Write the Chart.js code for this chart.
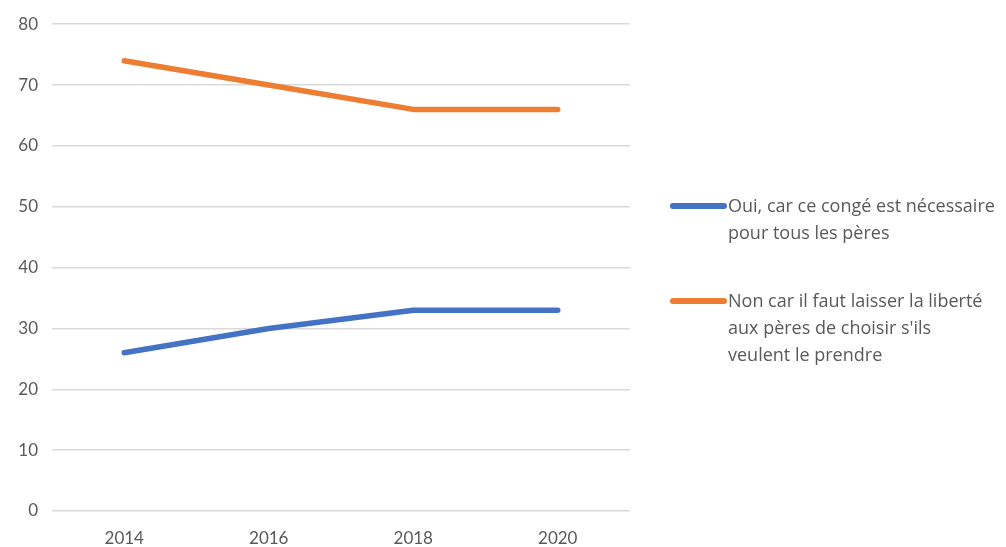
<!DOCTYPE html>
<html><head><meta charset="utf-8">
<script src="https://cdn.jsdelivr.net/npm/chart.js@4"></script>
<style>
html,body{margin:0;padding:0;background:#fff;}
#wrap{position:relative;width:1006px;height:547px;}
#legend{position:absolute;left:670px;top:0;font-family:"Open Sans",Lato,sans-serif;font-size:18px;color:#595959;line-height:27px;}
.item{position:absolute;left:0;width:340px;}
.sw{position:absolute;left:0;width:57px;height:5.5px;border-radius:3px;top:11px;}
.tx{position:absolute;left:58px;width:290px;white-space:nowrap;}
</style></head>
<body><div id="wrap"><canvas id="c" width="1006" height="547"></canvas><div id="legend"></div></div>
<script>
const categories = ["2014","2016","2018","2020"];
const seriesNames = ["Oui, car ce congé est nécessaire pour tous les pères","Non car il faut laisser la liberté aux pères de choisir s'ils veulent le prendre"];
const legendLines = [["Oui, car ce congé est nécessaire","pour tous les pères"],["Non car il faut laisser la liberté","aux pères de choisir s'ils","veulent le prendre"]];
const ouiValues = [26,30,33,33];
const nonValues = [74,70,66,66];
const colors = ["#4472C4","#ED7D31"];

const chart = new Chart(document.getElementById('c'),{
  type:'line',
  data:{labels:categories,datasets:[
    {label:seriesNames[0],data:ouiValues,borderColor:colors[0],backgroundColor:colors[0],borderWidth:5.5,pointRadius:0,borderCapStyle:'round',borderJoinStyle:'round',tension:0},
    {label:seriesNames[1],data:nonValues,borderColor:colors[1],backgroundColor:colors[1],borderWidth:5.5,pointRadius:0,borderCapStyle:'round',borderJoinStyle:'round',tension:0}
  ]},
  options:{
    responsive:false,animation:false,
    layout:{padding:{top:19,right:376,left:0,bottom:0}},
    plugins:{legend:{display:false},tooltip:{enabled:false}},
    scales:{
      x:{offset:true,grid:{display:false,drawTicks:false},border:{display:false},
        ticks:{color:'#595959',font:{family:'Lato, "Open Sans", sans-serif',size:17},padding:17},
        afterFit(s){s.height=36;}},
      y:{min:0,max:80,ticks:{stepSize:10,color:'#595959',font:{family:'Lato, "Open Sans", sans-serif',size:17},padding:14},
        grid:{color:'#d9d9d9',lineWidth:1.5,drawTicks:false},border:{display:false},
        afterFit(s){s.width=52;}}
    }
  }
});

const lg=document.getElementById('legend');
const tops=[192,287];
seriesNames.forEach((n,i)=>{
  const it=document.createElement('div');it.className='item';it.style.top=tops[i]+'px';
  const sw=document.createElement('div');sw.className='sw';sw.style.background=colors[i];
  const tx=document.createElement('div');tx.className='tx';tx.innerHTML=legendLines[i].join('<br>');
  it.appendChild(sw);it.appendChild(tx);lg.appendChild(it);
});
</script></body></html>
